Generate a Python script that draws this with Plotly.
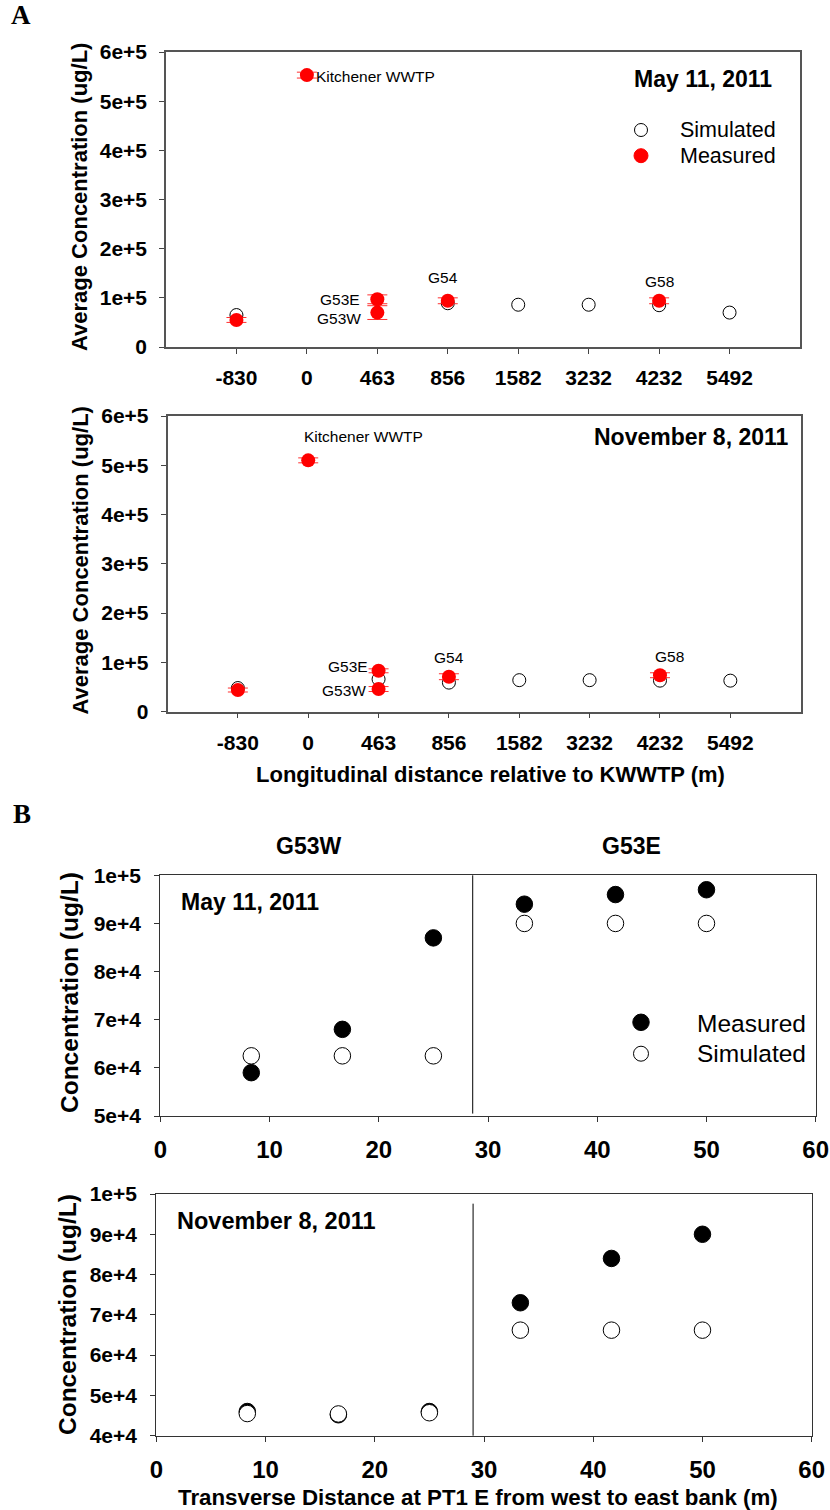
import plotly.graph_objects as go

W, H = 830, 1510

# ---------------- data ----------------
# Panel A: longitudinal stations (m from KWWTP)
stations = ["-830", "0", "463", "856", "1582", "3232", "4232", "5492"]
conc_ticks_a = [0, 100000, 200000, 300000, 400000, 500000, 600000]
conc_labels_a = ["0", "1e+5", "2e+5", "3e+5", "4e+5", "5e+5", "6e+5"]

may_sim_x = ["-830", "856", "1582", "3232", "4232", "5492"]
may_sim_y = [65000, 89000, 86000, 86000, 85000, 70000]
may_meas_x = ["-830", "0", "463", "463", "856", "4232"]
may_meas_y = [55000, 553000, 97000, 70000, 94000, 94000]
may_meas_err = [5000, 6000, 9000, 14000, 6000, 6000]

nov_sim_x = ["-830", "463", "856", "1582", "3232", "4232", "5492"]
nov_sim_y = [48000, 66000, 59000, 64000, 64000, 63000, 63000]
nov_meas_x = ["-830", "0", "463", "463", "856", "4232"]
nov_meas_y = [44000, 510000, 83000, 46000, 71000, 74000]
nov_meas_err = [4000, 5000, 4000, 5000, 6000, 5000]

# Panel B: transverse profile across PT1 E (m from west bank)
transverse_x = [8.33, 16.67, 25.0, 33.33, 41.67, 50.0]
may_b_meas = [59000, 68000, 87000, 94000, 96000, 97000]
may_b_sim = [62500, 62500, 62500, 90000, 90000, 90000]
nov_b_meas = [46000, 45200, 46000, 73000, 84000, 90000]
nov_b_sim = [45500, 45400, 45700, 66200, 66200, 66200]
may_split = 28.6   # boundary between G53W and G53E sampling
nov_split = 29.0

conc_ticks_b1 = [50000, 60000, 70000, 80000, 90000, 100000]
conc_labels_b1 = ["5e+4", "6e+4", "7e+4", "8e+4", "9e+4", "1e+5"]
conc_ticks_b2 = [40000, 50000, 60000, 70000, 80000, 90000, 100000]
conc_labels_b2 = ["4e+4", "5e+4", "6e+4", "7e+4", "8e+4", "9e+4", "1e+5"]
dist_ticks_b = [0, 10, 20, 30, 40, 50, 60]


def px(x):
    return x / W


def py(y):
    return 1 - y / H


def pos(name):
    # annotation position on the category axis (index of the station)
    return stations.index(name)


SANS = "Liberation Sans, Arial, sans-serif"
SERIF = "Liberation Serif, Times New Roman, serif"
RED = "#ff0000"

fig = go.Figure()

# ---------- panel A traces ----------
open_a = dict(symbol="circle", size=13, color="white", line=dict(color="black", width=1))
red_a = dict(symbol="circle", size=14, color=RED, line=dict(width=0))
err_style = dict(type="data", thickness=1, width=10, color="#ff3030")

fig.add_trace(go.Scatter(x=may_sim_x, y=may_sim_y, mode="markers", marker=open_a,
                         name="Simulated", xaxis="x", yaxis="y"))
fig.add_trace(go.Scatter(x=may_meas_x, y=may_meas_y, mode="markers", marker=red_a,
                         error_y=dict(array=may_meas_err, **err_style),
                         name="Measured", xaxis="x", yaxis="y"))
fig.add_trace(go.Scatter(x=nov_sim_x, y=nov_sim_y, mode="markers", marker=open_a,
                         name="Simulated", xaxis="x2", yaxis="y2"))
fig.add_trace(go.Scatter(x=nov_meas_x, y=nov_meas_y, mode="markers", marker=red_a,
                         error_y=dict(array=nov_meas_err, **err_style),
                         name="Measured", xaxis="x2", yaxis="y2"))

# ---------- panel B traces ----------
black_b = dict(symbol="circle", size=16.5, color="black", line=dict(color="black", width=1))
open_b = dict(symbol="circle", size=16.5, color="white", line=dict(color="black", width=1))

fig.add_trace(go.Scatter(x=transverse_x, y=may_b_meas, mode="markers", marker=black_b,
                         name="Measured", xaxis="x3", yaxis="y3"))
fig.add_trace(go.Scatter(x=transverse_x, y=may_b_sim, mode="markers", marker=open_b,
                         name="Simulated", xaxis="x3", yaxis="y3"))
fig.add_trace(go.Scatter(x=transverse_x, y=nov_b_meas, mode="markers", marker=black_b,
                         name="Measured", xaxis="x4", yaxis="y4"))
fig.add_trace(go.Scatter(x=transverse_x, y=nov_b_sim, mode="markers", marker=open_b,
                         name="Simulated", xaxis="x4", yaxis="y4"))

# ---------- axes ----------
tick_font_a = dict(family=SANS, size=21, color="black", weight="bold")


def cat_axis(dom, anchor):
    return dict(domain=dom, anchor=anchor, type="category", categoryorder="array",
                categoryarray=stations, range=[-1, 8], showgrid=False, zeroline=False,
                showline=True, linecolor="#555555", linewidth=1.5, mirror=True,
                ticks="outside", ticklen=5, tickwidth=1, tickcolor="#444444",
                tickfont=tick_font_a, ticklabelstandoff=6)


def conc_axis_a(dom, anchor):
    return dict(domain=dom, anchor=anchor, range=[0, 600000], tickmode="array",
                tickvals=conc_ticks_a, ticktext=conc_labels_a, showgrid=False,
                zeroline=False, showline=True, linecolor="#555555", linewidth=1.5,
                mirror=True, ticks="outside", ticklen=5, tickwidth=1,
                tickcolor="#444444", tickfont=tick_font_a, ticklabelstandoff=8)


def dist_axis_b(dom, anchor):
    return dict(domain=dom, anchor=anchor, range=[0, 60], tickmode="array",
                tickvals=dist_ticks_b, showgrid=False, zeroline=False, showline=True,
                linecolor="#333333", linewidth=1.2, mirror=True, ticks="outside",
                ticklen=5, tickwidth=1, tickcolor="#333333",
                tickfont=dict(family=SANS, size=24, color="black", weight="bold"),
                ticklabelstandoff=7)


def conc_axis_b(dom, anchor, rng, vals, labels):
    return dict(domain=dom, anchor=anchor, range=rng, tickmode="array", tickvals=vals,
                ticktext=labels, showgrid=False, zeroline=False, showline=True,
                linecolor="#333333", linewidth=1.2, mirror=True, ticks="outside",
                ticklen=5, tickwidth=1, tickcolor="#333333",
                tickfont=dict(family=SANS, size=21, color="black", weight="bold"),
                ticklabelstandoff=9)


fig.update_layout(
    xaxis=cat_axis([px(166), px(800)], "y"),
    yaxis=conc_axis_a([py(347), py(52)], "x"),
    xaxis2=cat_axis([px(167.5), px(800.7)], "y2"),
    yaxis2=conc_axis_a([py(711.7), py(416)], "x2"),
    xaxis3=dist_axis_b([px(160.3), px(815.7)], "y3"),
    yaxis3=conc_axis_b([py(1116), py(875.3)], "x3", [50000, 100000], conc_ticks_b1, conc_labels_b1),
    xaxis4=dist_axis_b([px(156.3), px(811.7)], "y4"),
    yaxis4=conc_axis_b([py(1435.7), py(1194)], "x4", [40000, 100000], conc_ticks_b2, conc_labels_b2),
)

# ---------- boundaries between west and east sampling groups ----------
fig.add_shape(type="line", xref="x3", yref="y3 domain", x0=may_split, x1=may_split,
              y0=0.01, y1=1, line=dict(color="black", width=1))
fig.add_shape(type="line", xref="x4", yref="y4 domain", x0=nov_split, x1=nov_split,
              y0=0, y1=0.96, line=dict(color="black", width=1))

# ---------- text ----------
ann = []


def note(text, x, y, size, bold=False, xanchor="center", yanchor="middle",
         angle=0, family=SANS, xref="paper", yref="paper", xshift=0, yshift=0):
    ann.append(dict(text=text, x=x, y=y, xref=xref, yref=yref, showarrow=False,
                    xanchor=xanchor, yanchor=yanchor, textangle=angle,
                    xshift=xshift, yshift=yshift,
                    font=dict(family=family, size=size, color="black",
                              weight="bold" if bold else "normal")))


def key_marker(xc, yc, d, fill):
    fig.add_shape(type="circle", xref="paper", yref="paper", xsizemode="pixel",
                  ysizemode="pixel", xanchor=px(xc), yanchor=py(yc),
                  x0=-d / 2, x1=d / 2, y0=-d / 2, y1=d / 2, fillcolor=fill,
                  line=dict(color="black" if fill != RED else RED, width=1))


# panel letters
note("A", px(21), py(15), 27, bold=True, family=SERIF)
note("B", px(22), py(814), 27, bold=True, family=SERIF)

# panel A titles and labels
note("Average Concentration (ug/L)", px(80), py(197), 22, bold=True, angle=-90)
note("Average Concentration (ug/L)", px(80.5), py(561), 22, bold=True, angle=-90)
note("Longitudinal distance relative to KWWTP (m)", px(490), py(775), 22, bold=True)
note("May 11, 2011", px(774), py(79), 23, bold=True, xanchor="right")
note("November 8, 2011", px(791), py(437), 23, bold=True, xanchor="right")

# key, panel A
key_marker(641, 130, 13, "white")
key_marker(641, 155.7, 14, RED)
note("Simulated", px(678), py(130), 21.5, xanchor="left")
note("Measured", px(678), py(156), 21.5, xanchor="left")

# station labels, May
note("Kitchener WWTP", pos("0"), 550000, 15.5, xanchor="left", xref="x", yref="y", xshift=7)
note("G53E", pos("463"), 97000, 15.5, xanchor="right", xref="x", yref="y", xshift=-15)
note("G53W", pos("463"), 58000, 15.5, xanchor="right", xref="x", yref="y", xshift=-14)
note("G54", pos("856"), 141000, 15.5, xref="x", yref="y", xshift=-5)
note("G58", pos("4232"), 134000, 15.5, xref="x", yref="y")
# station labels, November
note("Kitchener WWTP", pos("0"), 558000, 15.5, xref="x2", yref="y2", xshift=55)
note("G53E", pos("463"), 91000, 15.5, xanchor="right", xref="x2", yref="y2", xshift=-9)
note("G53W", pos("463"), 43000, 15.5, xanchor="right", xref="x2", yref="y2", xshift=-11)
note("G54", pos("856"), 110000, 15.5, xref="x2", yref="y2")
note("G58", pos("4232"), 113000, 15.5, xref="x2", yref="y2", xshift=10)

# panel B titles and labels
note("G53W", px(308), py(846), 23, bold=True)
note("G53E", px(631), py(846), 23, bold=True)
note("Concentration (ug/L)", px(69), py(993), 24.5, bold=True, angle=-90)
note("Concentration (ug/L)", px(67), py(1315), 24.5, bold=True, angle=-90)
note("May 11, 2011", px(179), py(902), 23, bold=True, xanchor="left")
note("November 8, 2011", px(175), py(1221), 23.5, bold=True, xanchor="left")
note("Transverse Distance at PT1 E from west to east bank (m)", px(478), py(1497), 22.3, bold=True)

# key, panel B
key_marker(641, 1022.3, 16.5, "black")
key_marker(641, 1053.7, 15, "white")
note("Measured", px(695), py(1023), 24.5, xanchor="left")
note("Simulated", px(695), py(1053), 24.5, xanchor="left")

fig.update_layout(
    annotations=ann,
    width=W, height=H,
    margin=dict(l=0, r=0, t=0, b=0, autoexpand=False),
    paper_bgcolor="white", plot_bgcolor="white",
    font=dict(family=SANS, color="black"),
    showlegend=False,
)

fig.write_html("out.html")
